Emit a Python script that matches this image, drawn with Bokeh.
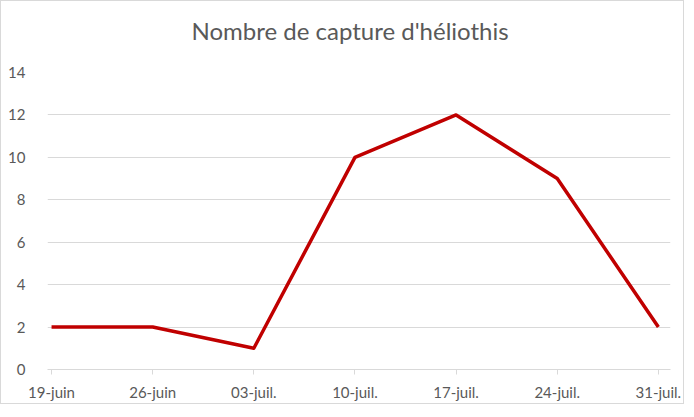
from bokeh.plotting import figure
from bokeh.models import Range1d, FixedTicker, ColumnDataSource, Title
from bokeh.embed import file_html
from bokeh.resources import INLINE

categories = ["19-juin", "26-juin", "03-juil.", "10-juil.", "17-juil.", "24-juil.", "31-juil."]
captures = [2, 2, 1, 10, 12, 9, 2]
y_ticks = [0, 2, 4, 6, 8, 10, 12, 14]
title_text = "Nombre de capture d'héliothis"

xs = list(range(len(categories)))
src = ColumnDataSource(data=dict(x=xs, y=captures, cat=categories))

p = figure(width=684, height=404, output_backend="svg", toolbar_location=None,
           x_range=Range1d(-0.04, 6.12), y_range=Range1d(0, 14),
           min_border_left=46, min_border_right=15, min_border_top=71, min_border_bottom=36,
           title=None)
p.styles = {"border": "1px solid #d9d9d9", "box-sizing": "border-box"}

# spacer between title and plot area
spacer = Title(text=" ", text_font_size="1px", standoff=18, text_color="white")
p.add_layout(spacer, "above")

main_title = Title(text=title_text, align="left", vertical_align="top",
                   text_font="Lato", text_font_size="24px", text_font_style="normal",
                   text_color="#595959", offset=144, standoff=10)
p.add_layout(main_title, "above")

p.outline_line_color = None
p.background_fill_color = "white"
p.border_fill_color = "white"

p.line(x="x", y="y", source=src, line_color="#C00000", line_width=3.5, line_join="round")

# x axis
p.xaxis.ticker = FixedTicker(ticks=xs)
p.xaxis.major_label_overrides = {i: c for i, c in enumerate(categories)}
p.xaxis.axis_line_color = "#d9d9d9"
p.xaxis.major_tick_line_color = "#d9d9d9"
p.xaxis.major_tick_out = 5
p.xaxis.major_tick_in = 0
p.xaxis.minor_tick_line_color = None
p.xaxis.major_label_standoff = 8
p.xaxis.major_label_text_font = "Lato"
p.xaxis.major_label_text_font_size = "15px"
p.xaxis.major_label_text_color = "#595959"

# y axis
p.yaxis.ticker = FixedTicker(ticks=y_ticks)
p.yaxis.axis_line_color = None
p.yaxis.major_tick_line_color = None
p.yaxis.minor_tick_line_color = None
p.yaxis.major_label_standoff = 16
p.yaxis.major_label_text_font = "Lato"
p.yaxis.major_label_text_font_size = "15px"
p.yaxis.major_label_text_color = "#595959"

p.xgrid.grid_line_color = None
p.ygrid.ticker = FixedTicker(ticks=y_ticks)
p.ygrid.grid_line_color = "#d9d9d9"
p.ygrid.grid_line_width = 1

open("out.html", "w").write(file_html(p, INLINE))
